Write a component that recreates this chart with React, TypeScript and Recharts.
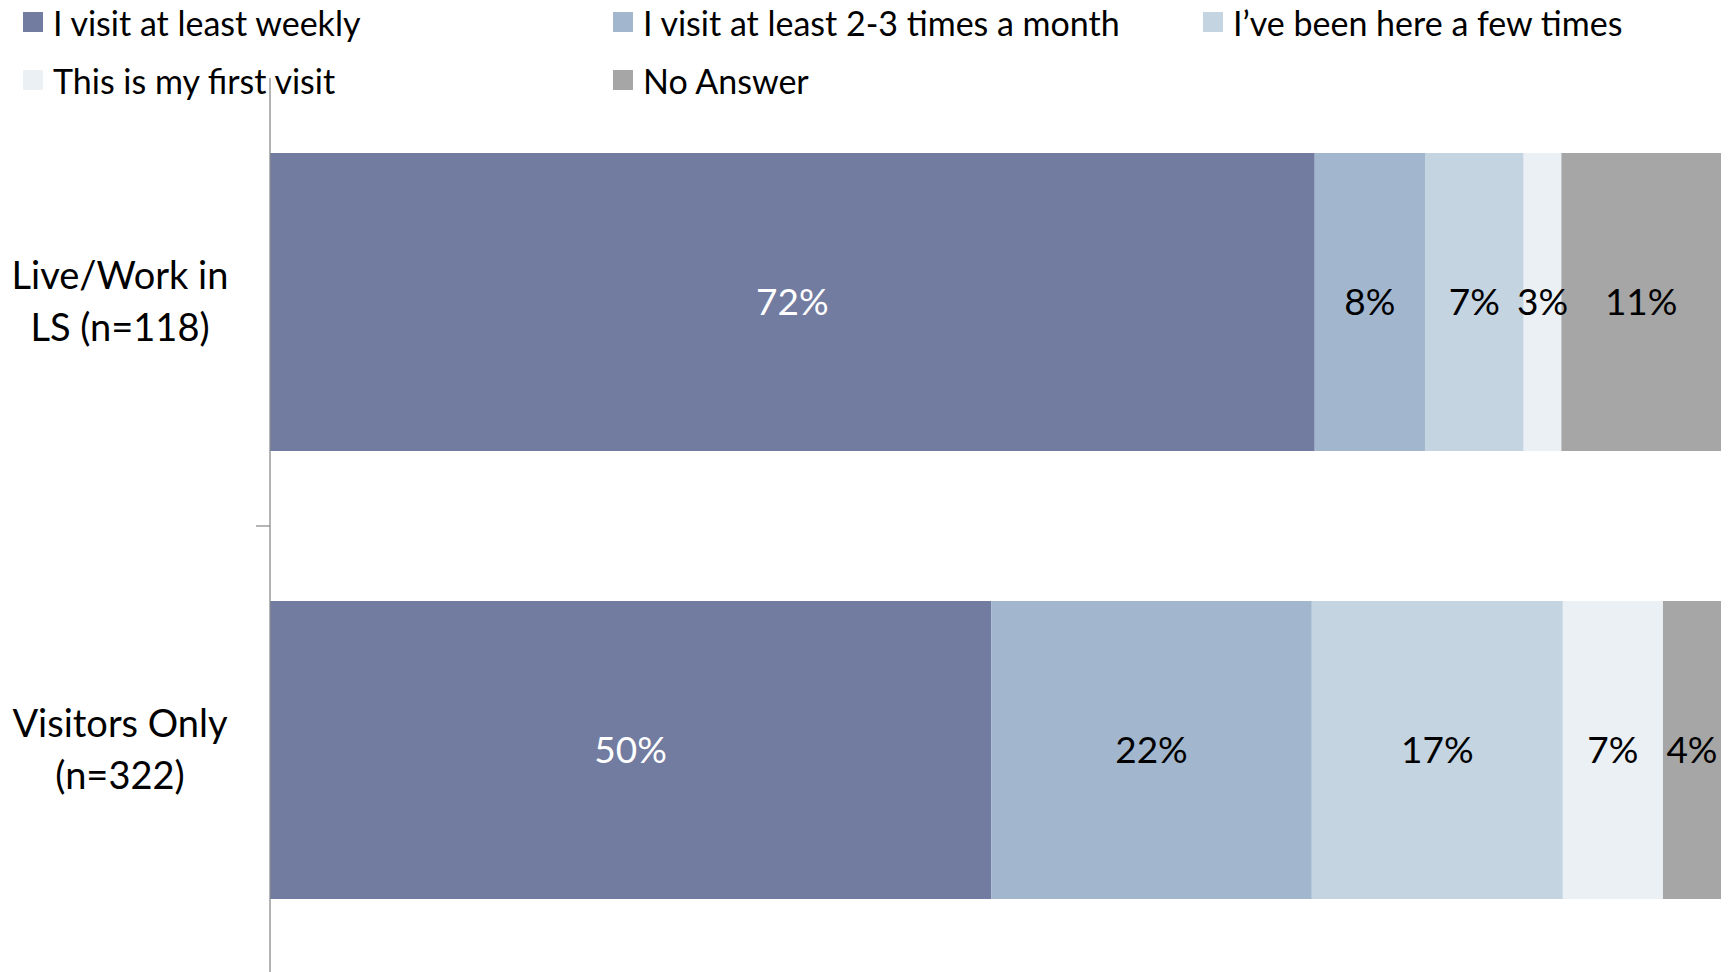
import { Bar, BarChart, LabelList, XAxis, YAxis } from 'recharts';

const categories = ['Live/Work in LS (n=118)', 'Visitors Only (n=322)'];
const categoryLines = [
  ['Live/Work in', 'LS (n=118)'],
  ['Visitors Only', '(n=322)'],
];
const seriesNames = [
  'I visit at least weekly',
  'I visit at least 2-3 times a month',
  'I’ve been here a few times',
  'This is my first visit',
  'No Answer',
];
const weekly = [72.0, 49.7];
const monthly = [7.6, 22.1];
const fewTimes = [6.8, 17.3];
const firstVisit = [2.6, 6.9];
const noAnswer = [11.0, 4.0];

const seriesValues = [weekly, monthly, fewTimes, firstVisit, noAnswer];
const colors = ['#727BA0', '#A2B7CE', '#C4D4E1', '#EBF0F5', '#A6A6A6'];
const labelColors = ['#FFFFFF', '#000000', '#000000', '#000000', '#000000'];

const W = 1731;
const H = 976;
const TOP = 78;
const BOTTOM = 2;
const AXIS_W = 270;
const BAND = (H - TOP - BOTTOM) / categories.length;
const FONT = 'Lato, "Noto Sans", sans-serif';

const data = categories.map((name, i) => {
  const row: Record<string, string | number> = { name };
  seriesNames.forEach((s, j) => {
    row[s] = seriesValues[j][i];
  });
  return row;
});

const CategoryTick = (props: any) => {
  const { y, index } = props;
  const lines = categoryLines[index] ?? [];
  return (
    <g>
      <text
        x={120}
        y={y}
        textAnchor='middle'
        fontFamily={FONT}
        fontSize={38}
        fill='#000'
      >
        {lines.map((l, k) => (
          <tspan key={k} x={120} y={y + (k - (lines.length - 1) / 2) * 52} dy='0.35em'>
            {l}
          </tspan>
        ))}
      </text>
      {index < categories.length - 1 && (
        <line
          x1={AXIS_W - 14}
          x2={AXIS_W}
          y1={y + BAND / 2}
          y2={y + BAND / 2}
          stroke='#8C8C8C'
          strokeWidth={1.3}
        />
      )}
    </g>
  );
};

const Legend = () => (
  <div
    style={{
      position: 'absolute',
      left: 23,
      top: -7,
      width: 1780,
      display: 'flex',
      flexWrap: 'wrap',
      fontFamily: FONT,
      fontSize: 34,
      color: '#000',
      zIndex: 1,
      pointerEvents: 'none',
    }}
  >
    {seriesNames.map((s, i) => (
      <div
        key={s}
        style={{ width: 590, height: 58, display: 'flex', alignItems: 'center' }}
      >
        <span
          style={{
            width: 20,
            height: 20,
            background: colors[i],
            display: 'inline-block',
            marginRight: 10,
          }}
        />
        <span>{s}</span>
      </div>
    ))}
  </div>
);

export default function App() {
  return (
    <div
      style={{
        position: 'absolute',
        left: 0,
        top: 0,
        width: W,
        height: 972,
        overflow: 'hidden',
        background: '#fff',
      }}
    >
      <Legend />
      <BarChart
        width={W}
        height={H}
        data={data}
        layout='vertical'
        margin={{ top: TOP, right: 10, bottom: BOTTOM, left: 0 }}
      >
        <XAxis type='number' domain={[0, 100]} hide />
        <YAxis
          type='category'
          dataKey='name'
          width={AXIS_W}
          tick={<CategoryTick />}
          tickLine={false}
          axisLine={{ stroke: '#8C8C8C', strokeWidth: 1.3 }}
          interval={0}
        />
        {seriesNames.map((s, i) => (
          <Bar
            key={s}
            dataKey={s}
            stackId='a'
            fill={colors[i]}
            barSize={298}
            isAnimationActive={false}
          >
            <LabelList
              dataKey={s}
              position='center'
              formatter={(v: any) => `${Math.round(Number(v))}%`}
              fill={labelColors[i]}
              fontFamily={FONT}
              fontSize={37}
            />
          </Bar>
        ))}
      </BarChart>
    </div>
  );
}
